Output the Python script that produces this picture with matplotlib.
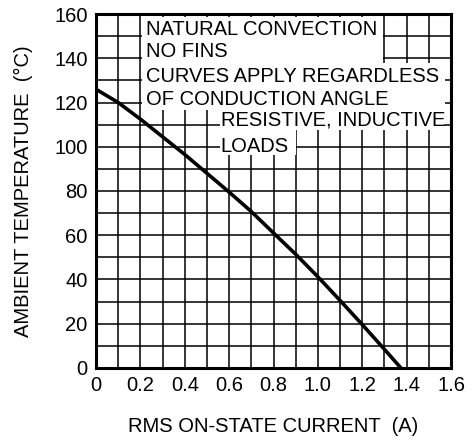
import matplotlib
matplotlib.use('Agg')
from matplotlib import pyplot as plt
from matplotlib.patches import Rectangle

plt.rcParams['font.family'] = ['Liberation Sans', 'DejaVu Sans']

# Curva de temperatura ambiente vs corriente RMS
corriente = [0, 0.1, 0.2, 0.3, 0.4, 0.5, 0.6, 0.7, 0.8, 0.9, 1.0, 1.1, 1.2, 1.3, 1.374]
temperatura = [126, 120, 112.5, 104.5, 96.5, 88, 79.5, 70.7, 61, 51.4, 41.2, 30.5, 19.6, 8.4, 0]

x_ticks = [0, 0.2, 0.4, 0.6, 0.8, 1.0, 1.2, 1.4, 1.6]
x_tick_labels = ['0', '0.2', '0.4', '0.6', '0.8', '1.0', '1.2', '1.4', '1.6']
y_ticks = [0, 20, 40, 60, 80, 100, 120, 140, 160]

notas_1 = ['NATURAL CONVECTION', 'NO FINS', 'CURVES APPLY REGARDLESS', 'OF CONDUCTION ANGLE']
notas_2 = ['RESISTIVE, INDUCTIVE', 'LOADS']

fig = plt.figure(figsize=(4.69, 4.46), dpi=100)
ax = fig.add_axes([0.2047, 0.175, 0.757, 0.7935])

ax.set_xlim(0, 1.6)
ax.set_ylim(0, 160)

# Rejilla
for i in range(1, 16):
    ax.axvline(i * 0.1, color='black', lw=1.1, zorder=1)
for j in range(1, 16):
    ax.axhline(j * 10, color='black', lw=1.1, zorder=1)

# Fondos blancos de las notas
blancos = [(0.207, 138, 1.295, 158.6), (0.207, 116.6, 1.575, 138),
           (0.559, 107.6, 1.568, 116.6), (0.559, 96.5, 0.90, 107.6)]
for x0, y0, x1, y1 in blancos:
    ax.add_patch(Rectangle((x0, y0), x1 - x0, y1 - y0, facecolor='white',
                           edgecolor='none', zorder=2))

ax.plot(corriente, temperatura, color='black', lw=2.6, zorder=3)

fs = 14.5
y_notas_1 = [150.5, 140.6, 129.3, 118.9]
for i in range(len(notas_1)):
    ax.text(0.226, y_notas_1[i], notas_1[i], fontsize=fs, va='baseline', ha='left', zorder=4)
y_notas_2 = [109.5, 97.8]
for i in range(len(notas_2)):
    ax.text(0.562, y_notas_2[i], notas_2[i], fontsize=fs, va='baseline', ha='left', zorder=4)

ax.set_xticks(x_ticks)
ax.set_xticklabels(x_tick_labels)
ax.set_yticks(y_ticks)
ax.tick_params(length=0, labelsize=fs, pad=6)

for s in ax.spines.values():
    s.set_linewidth(2.2)
    s.set_zorder(5)

ax.set_xlabel('RMS ON-STATE CURRENT  (A)', fontsize=fs, labelpad=15.5)
ax.set_ylabel('AMBIENT TEMPERATURE  (°C)', fontsize=fs, labelpad=15)

fig.savefig('out.png', dpi=100)
